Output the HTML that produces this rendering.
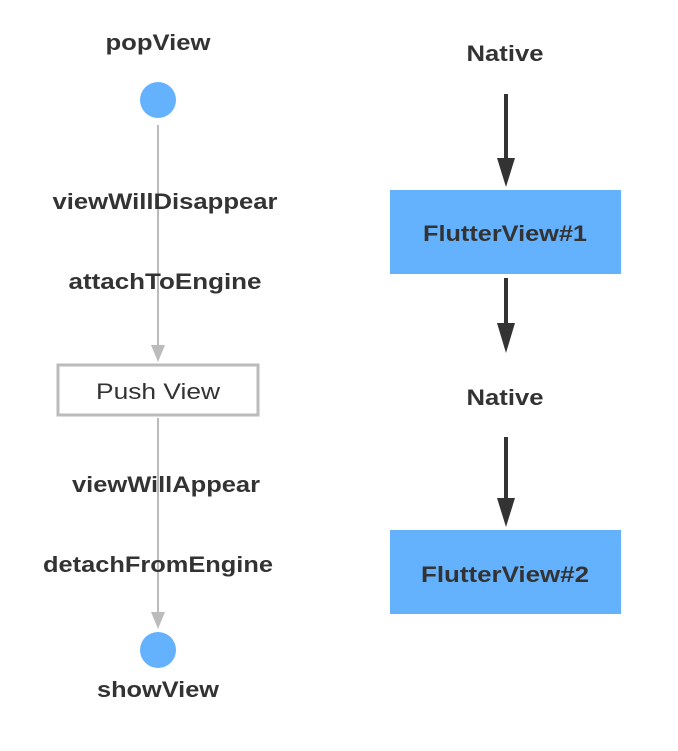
<!DOCTYPE html>
<html><head><style>
html,body{margin:0;padding:0;background:#fff;}
svg text{font-family:"Liberation Sans",sans-serif;fill:#333;text-anchor:middle;font-weight:bold;}
</style></head><body>
<svg width="678" height="746" viewBox="0 0 678 746" xmlns="http://www.w3.org/2000/svg">
<text x="158" y="50" font-size="22" textLength="105" lengthAdjust="spacingAndGlyphs">popView</text>
<circle cx="158" cy="100" r="18" fill="#64b1fd"/>
<line x1="158" y1="125" x2="158" y2="345" stroke="#bbb" stroke-width="2"/>
<polygon points="151,345 165,345 158,362" fill="#bbb"/>
<text x="165" y="209" font-size="22" textLength="225" lengthAdjust="spacingAndGlyphs">viewWillDisappear</text>
<text x="165" y="289" font-size="22" textLength="193" lengthAdjust="spacingAndGlyphs">attachToEngine</text>
<rect x="58" y="365" width="200" height="50" fill="#fff" stroke="#bbb" stroke-width="3"/>
<text x="158" y="399" font-size="22" style="font-weight:normal" textLength="124" lengthAdjust="spacingAndGlyphs">Push View</text>
<line x1="158" y1="418" x2="158" y2="612" stroke="#bbb" stroke-width="2"/>
<polygon points="151,612 165,612 158,629" fill="#bbb"/>
<text x="166" y="492" font-size="22" textLength="188" lengthAdjust="spacingAndGlyphs">viewWillAppear</text>
<text x="158" y="572" font-size="22" textLength="230" lengthAdjust="spacingAndGlyphs">detachFromEngine</text>
<circle cx="158" cy="650" r="18" fill="#64b1fd"/>
<text x="158" y="697" font-size="22" textLength="122" lengthAdjust="spacingAndGlyphs">showView</text>

<text x="505" y="61" font-size="22" textLength="77" lengthAdjust="spacingAndGlyphs">Native</text>
<line x1="506" y1="94" x2="506" y2="160" stroke="#333" stroke-width="4"/>
<polygon points="497,158 515,158 506,187" fill="#333"/>
<rect x="390" y="190" width="231" height="84" fill="#64b1fd"/>
<text x="505" y="241" font-size="22" textLength="164" lengthAdjust="spacingAndGlyphs">FlutterView#1</text>
<line x1="506" y1="278" x2="506" y2="325" stroke="#333" stroke-width="4"/>
<polygon points="497,323 515,323 506,353" fill="#333"/>
<text x="505" y="405" font-size="22" textLength="77" lengthAdjust="spacingAndGlyphs">Native</text>
<line x1="506" y1="437" x2="506" y2="500" stroke="#333" stroke-width="4"/>
<polygon points="497,498 515,498 506,527" fill="#333"/>
<rect x="390" y="530" width="231" height="84" fill="#64b1fd"/>
<text x="505" y="582" font-size="22" textLength="168" lengthAdjust="spacingAndGlyphs">FlutterView#2</text>
</svg>
</body></html>
